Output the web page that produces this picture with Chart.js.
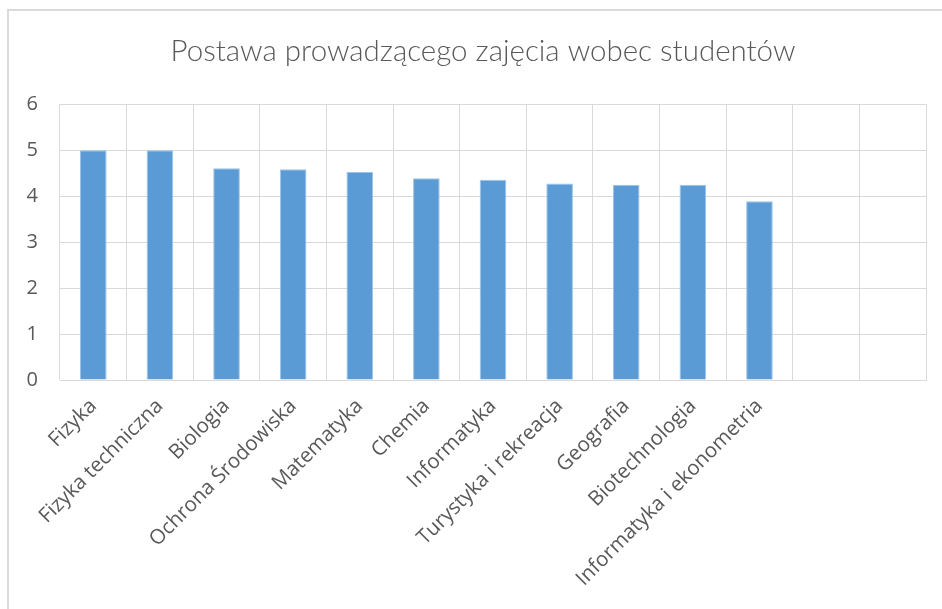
<!DOCTYPE html>
<html>
<head>
<meta charset="utf-8">
<script src="https://cdn.jsdelivr.net/npm/chart.js"></script>
<style>
  body { margin: 0; background: #fff; overflow: hidden; }
  #frame { position: absolute; left: 7px; top: 9px; width: 1000px; height: 700px; border: 2px solid #dadada; }
  #wrap { position: absolute; left: 0; top: 0; width: 942px; height: 609px; }
</style>
</head>
<body>
<div id="frame"></div>
<div id="wrap"><canvas id="chart" width="942" height="609"></canvas></div>
<script>
const TITLE = 'Postawa prowadzącego zajęcia wobec studentów';
const categories = ['Fizyka', 'Fizyka techniczna', 'Biologia', 'Ochrona Środowiska', 'Matematyka', 'Chemia',
  'Informatyka', 'Turystyka i rekreacja', 'Geografia', 'Biotechnologia', 'Informatyka i ekonometria', '', ''];
const scores = [5.0, 5.0, 4.61, 4.59, 4.53, 4.39, 4.36, 4.28, 4.25, 4.25, 3.89, null, null];
const yTicks = [0, 1, 2, 3, 4, 5, 6];

const gridColor = '#d9d9d9';
const textColor = '#595959';

new Chart(document.getElementById('chart'), {
  type: 'bar',
  data: {
    labels: categories,
    datasets: [{
      data: scores,
      backgroundColor: '#5b9bd5',
      borderColor: '#9dc3e6',
      borderWidth: { top: 1, left: 1, right: 1, bottom: 0 },
      barPercentage: 0.4,
      categoryPercentage: 1
    }]
  },
  options: {
    responsive: false,
    animation: false,
    layout: { padding: { left: 0, right: 16, top: 0, bottom: 0 } },
    plugins: {
      legend: { display: false },
      tooltip: { enabled: false },
      title: {
        display: true,
        // leading spaces nudge the centred title right, as in the original
        text: '\u00a0'.repeat(5) + TITLE,
        color: textColor,
        font: { family: 'Lato', size: 29.5, weight: 300 },
        padding: { top: 34, bottom: 35 }
      }
    },
    scales: {
      x: {
        grid: { color: gridColor, lineWidth: 1, offset: true, drawTicks: false },
        border: { color: gridColor, width: 1 },
        ticks: {
          color: textColor,
          font: { family: 'Open Sans', size: 20.5 },
          maxRotation: 45,
          minRotation: 45,
          autoSkip: false,
          padding: 14
        },
        afterFit: axis => { axis.height = 229; }
      },
      y: {
        min: 0,
        max: 6,
        afterBuildTicks: axis => { axis.ticks = yTicks.map(v => ({ value: v })); },
        grid: { color: gridColor, lineWidth: 1, drawTicks: false },
        border: { display: false },
        ticks: {
          color: textColor,
          font: { family: 'Open Sans', size: 20 },
          padding: 22
        },
        afterFit: axis => { axis.width = 60; }
      }
    }
  }
});
</script>
</body>
</html>
